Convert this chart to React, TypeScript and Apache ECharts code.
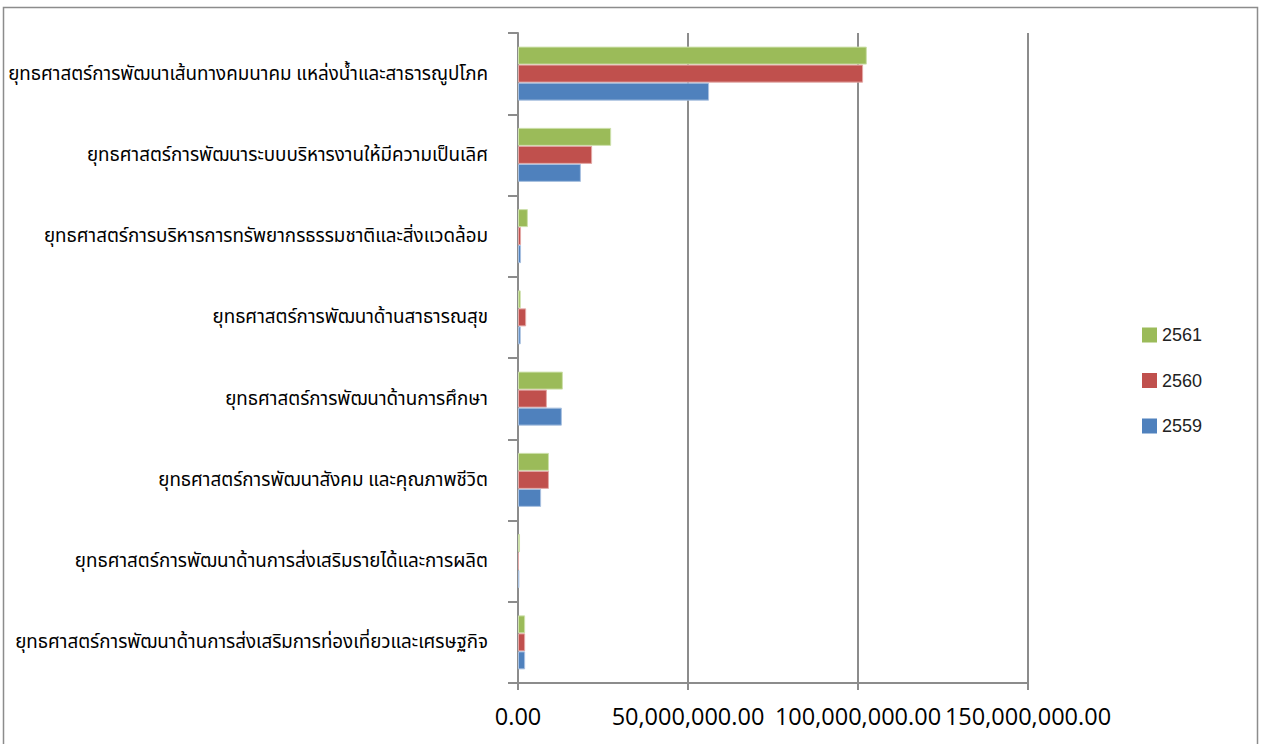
import React, { useEffect, useRef } from "react";
import * as echarts from "echarts";

// categories listed bottom-to-top (ECharts category axis order)
const categories: string[] = [
  "ยุทธศาสตร์การพัฒนาด้านการส่งเสริมการท่องเที่ยวและเศรษฐกิจ",
  "ยุทธศาสตร์การพัฒนาด้านการส่งเสริมรายได้และการผลิต",
  "ยุทธศาสตร์การพัฒนาสังคม และคุณภาพชีวิต",
  "ยุทธศาสตร์การพัฒนาด้านการศึกษา",
  "ยุทธศาสตร์การพัฒนาด้านสาธารณสุข",
  "ยุทธศาสตร์การบริหารการทรัพยากรธรรมชาติและสิ่งแวดล้อม",
  "ยุทธศาสตร์การพัฒนาระบบบริหารงานให้มีความเป็นเลิศ",
  "ยุทธศาสตร์การพัฒนาเส้นทางคมนาคม แหล่งน้ำและสาธารณูปโภค",
];

const values2559: number[] = [2100000, 400000, 6800000, 12900000, 800000, 900000, 18500000, 56200000];
const values2560: number[] = [2100000, 300000, 9100000, 8500000, 2400000, 900000, 21800000, 101500000];
const values2561: number[] = [2100000, 600000, 9100000, 13200000, 800000, 2900000, 27400000, 102600000];

const legendOrder: string[] = ["2561", "2560", "2559"];
const axisMin = 0;
const axisMax = 150000000;
const axisInterval = 50000000;

const fmt = (v: number) =>
  v.toLocaleString("en-US", { minimumFractionDigits: 2, maximumFractionDigits: 2 });

export default function App() {
  const ref = useRef<HTMLDivElement>(null);
  useEffect(() => {
    if (!ref.current) return;
    const chart = echarts.init(ref.current, undefined, { renderer: "svg" });
    const gray = "#8c8c8c";
    const mkSeries = (name: string, data: number[], color: string, border: string) => ({
      name,
      type: "bar",
      data,
      barGap: "0%",
      barCategoryGap: "33.5%",
      itemStyle: { color, borderColor: border, borderWidth: 1 },
    });
    chart.setOption({
      animation: false,
      backgroundColor: "#ffffff",
      grid: { left: 518, right: 235, top: 33, bottom: 61, containLabel: false },
      legend: {
        data: legendOrder,
        orient: "vertical",
        left: 1137,
        top: 321,
        itemWidth: 15,
        itemHeight: 15,
        itemGap: 27.5,
        icon: "rect",
        itemStyle: { borderWidth: 0 },
        textStyle: { fontFamily: "Liberation Sans, Arial, sans-serif", fontSize: 18, color: "#222" },
      },
      xAxis: {
        type: "value",
        min: axisMin,
        max: axisMax,
        interval: axisInterval,
        axisLine: { show: true, lineStyle: { color: gray, width: 2 } },
        axisTick: { show: true, length: 7, lineStyle: { color: gray, width: 2 } },
        splitLine: { show: true, lineStyle: { color: gray, width: 2 } },
        axisLabel: {
          formatter: (v: number) => fmt(v),
          fontFamily: "Open Sans, sans-serif",
          fontSize: 23.5,
          color: "#000",
          margin: 21,
        },
      },
      yAxis: {
        type: "category",
        data: categories,
        axisLine: { show: true, lineStyle: { color: gray, width: 2 } },
        axisTick: { show: true, length: 10, lineStyle: { color: gray, width: 2 } },
        axisLabel: {
          fontSize: 18.8,
          color: "#000",
          margin: 30,
          fontFamily: "Tahoma, 'Noto Sans Thai', 'DejaVu Sans', sans-serif",
        },
      },
      graphic: [
        {
          type: "rect",
          shape: { x: 3.5, y: 7.5, width: 1254, height: 800 },
          style: { fill: "none", stroke: gray, lineWidth: 1.5 },
          silent: true,
        },
      ],
      series: [
        mkSeries("2561", values2561, "#9BBB59", "#cde0ab"),
        mkSeries("2560", values2560, "#C0504D", "#e3a9a7"),
        mkSeries("2559", values2559, "#4F81BD", "#a9c1e0"),
      ],
    });
    return () => chart.dispose();
  }, []);
  return (
    <div
      ref={ref}
      style={{ position: "fixed", left: 0, top: 0, width: 1263, height: 744, background: "#fff" }}
    />
  );
}
